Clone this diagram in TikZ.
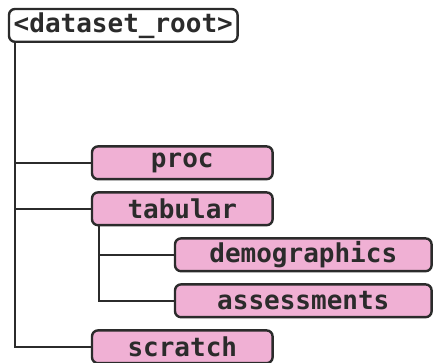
\documentclass[tikz,border=0pt]{standalone}
\usepackage{fontspec}
\setmonofont{DejaVu Sans Mono}
\usepackage{xcolor}
\usepackage{tikz}
\usetikzlibrary{positioning,calc}

\definecolor{dirpink}{HTML}{F0B0D4}
\definecolor{ink}{HTML}{2B2B2B}

\begin{document}
\begin{tikzpicture}[
dir/.style={draw=ink, line width=1.2pt, rounded corners=3pt, fill=dirpink, text=ink,
  font=\fontsize{13}{15}\selectfont\ttfamily\bfseries, minimum height=16.4pt, inner sep=0pt},
rootdir/.style={dir, fill=white, minimum width=114.3pt},
short/.style={dir, minimum width=90.3pt},
long/.style={dir, minimum width=128.3pt},
link/.style={draw=ink, line width=1.2pt}
]
\useasboundingbox (0,0) rectangle (217.5pt,-181.5pt);
\node[rootdir, anchor=north west] (root) at (3.9pt,-3.9pt) {<dataset\_root>};
\node[short, anchor=north west] (proc) at ($(root.south west)+(41.5pt,-51.1pt)$) {proc};
\node[short, below=5.4pt of proc] (tabular) {tabular};
\node[long, anchor=north west] (demo) at ($(tabular.south west)+(41.5pt,-5.4pt)$) {demographics};
\node[long, below=5.4pt of demo] (assess) {assessments};
\node[short, anchor=north west] (scratch) at ($(assess.south west)+(-41.5pt,-5.4pt)$) {scratch};
% tree lines
\coordinate (trunk) at ($(root.south west)+(3.6pt,0)$);
\coordinate (branch) at ($(tabular.south west)+(4.1pt,0)$);
\draw[link] (trunk) |- (scratch.west);
\draw[link] (trunk |- proc.west) -- (proc.west);
\draw[link] (trunk |- tabular.west) -- (tabular.west);
\draw[link] (branch) |- (assess.west);
\draw[link] (branch |- demo.west) -- (demo.west);
\end{tikzpicture}
\end{document}
